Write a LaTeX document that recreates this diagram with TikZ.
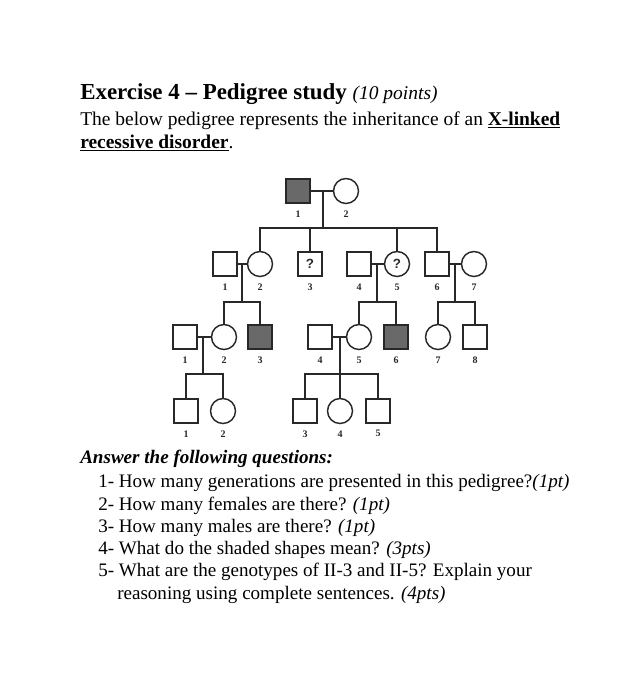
\documentclass[tikz,border=0pt]{standalone}
\usepackage{fontspec}
\setmainfont{Liberation Serif}
\setsansfont{Liberation Sans}
\newcommand\myul[1]{\setbox0\hbox{#1}\rlap{\raisebox{-2.6pt}{\rule{\wd0}{1.1pt}}}\box0}
\definecolor{affc}{RGB}{105,105,105}
\definecolor{inkc}{RGB}{40,40,40}
\begin{document}
\begin{tikzpicture}[x=0.75pt,y=-0.75pt,
  male/.style={draw=inkc, rectangle, minimum size=18pt, inner sep=0pt, line width=1.1pt},
  female/.style={draw=inkc, circle, minimum size=18.75pt, inner sep=0pt, line width=1.1pt},
  aff/.style={fill=affc},
  lbl/.style={font=\fontsize{7.5}{8}\selectfont\bfseries, inner sep=0pt, text=inkc},
  qm/.style={font=\fontsize{10}{10}\sffamily\bfseries, text=inkc},
  conn/.style={draw=inkc, line width=1.1pt},
  txt/.style={anchor=base west, inner sep=0pt, font=\fontsize{14.6}{17}\selectfont},
  qtxt/.style={txt, font=\fontsize{14.3}{17}\selectfont}]
\useasboundingbox (0,0) rectangle (633,700);
% texts
\node[txt, font=\fontsize{17.2}{20}\selectfont] (title) at (80,99) {\textbf{Exercise 4 -- Pedigree study} \fontsize{14.6}{17}\selectfont\textit{(10 points)}};
\node[txt] (intro1) at (80,125) {The below pedigree represents the inheritance of an \textbf{\myul{X-linked}}};
\node[txt] (intro2) at (80,148) {\textbf{\myul{recessive disorder}}.};
\node[qtxt] (ans) at (80,463) {\textbf{\textit{Answer the following questions:}}};
\node[qtxt] (q1) at (98,487) {1- How many generations are presented in this pedigree?\textit{(1pt)}};
\node[qtxt] (q2) at (98,510) {2- How many females are there? \textit{(1pt)}};
\node[qtxt] (q3) at (98,532) {3- How many males are there? \textit{(1pt)}};
\node[qtxt] (q4) at (98,554) {4- What do the shaded shapes mean? \textit{(3pts)}};
\node[qtxt] (q5) at (98,576) {5- What are the genotypes of II-3 and II-5? Explain your};
\node[qtxt] (q5b) at (117,599) {reasoning using complete sentences. \textit{(4pts)}};
% generation I
\node[male, aff] (I1) at (298,191) {};
\node[female] (I2) at (346,191) {};
% generation II
\node[male] (II1) at (225,264) {};
\node[female] (II2) at (260,264) {};
\node[male, qm] (II3) at (310,264) {?};
\node[male] (II4) at (359,264) {};
\node[female, qm] (II5) at (397,264) {?};
\node[male] (II6) at (437,264) {};
\node[female] (II7) at (474,264) {};
% generation III
\node[male] (III1) at (185,337) {};
\node[female] (III2) at (224,337) {};
\node[male, aff] (III3) at (260,337) {};
\node[male] (III4) at (320,337) {};
\node[female] (III5) at (359,337) {};
\node[male, aff] (III6) at (396,337) {};
\node[female] (III7) at (438,337) {};
\node[male] (III8) at (475,337) {};
% generation IV
\node[male] (IV1) at (186,411) {};
\node[female] (IV2) at (223,411) {};
\node[male] (IV3) at (305,411) {};
\node[female] (IV4) at (340,411) {};
\node[male] (IV5) at (378,411) {};
% labels
\foreach \n/\t in {I1/1,I2/2,II1/1,II2/2,II3/3,II4/4,II5/5,II6/6,II7/7,
  III1/1,III2/2,III3/3,III4/4,III5/5,III6/6,III7/7,III8/8,IV1/1,IV2/2,IV3/3,IV4/4,IV5/5}
  \node[lbl] (L\n) at ([yshift=-7.5pt]\n.south) {\t};
% marriages and descent coordinates
\coordinate (m1) at (323,191); \coordinate (s1) at (323,228);
\coordinate (m2) at (242,264); \coordinate (s2) at (242,302);
\coordinate (m3) at (377,264); \coordinate (s3) at (377,302);
\coordinate (m4) at (455,264); \coordinate (s4) at (455,302);
\coordinate (m5) at (203,337); \coordinate (s5) at (203,374);
\coordinate (m6) at (340,337); \coordinate (s6) at (340,374);
\draw[conn] (I1.east) -- (I2.west);
\draw[conn] (II1.east) -- (II2.west);
\draw[conn] (II4.east) -- (II5.west);
\draw[conn] (II6.east) -- (II7.west);
\draw[conn] (III1.east) -- (III2.west);
\draw[conn] (III4.east) -- (III5.west);
% gen I -> II
\draw[conn] (m1) -- (s1);
\draw[conn] (II2.north) -- (II2.north |- s1) -- (II6.north |- s1) -- (II6.north);
\draw[conn] (II3.north) -- (II3.north |- s1);
\draw[conn] (II5.north) -- (II5.north |- s1);
% gen II -> III
\draw[conn] (m2) -- (s2);
\draw[conn] (III2.north) -- (III2.north |- s2) -- (III3.north |- s2) -- (III3.north);
\draw[conn] (m3) -- (s3);
\draw[conn] (III5.north) -- (III5.north |- s3) -- (III6.north |- s3) -- (III6.north);
\draw[conn] (m4) -- (s4);
\draw[conn] (III7.north) -- (III7.north |- s4) -- (III8.north |- s4) -- (III8.north);
% gen III -> IV
\draw[conn] (m5) -- (s5);
\draw[conn] (IV1.north) -- (IV1.north |- s5) -- (IV2.north |- s5) -- (IV2.north);
\draw[conn] (m6) -- (s6);
\draw[conn] (IV3.north) -- (IV3.north |- s6) -- (IV5.north |- s6) -- (IV5.north);
\draw[conn] (IV4.north) -- (IV4.north |- s6);
\end{tikzpicture}
\end{document}
